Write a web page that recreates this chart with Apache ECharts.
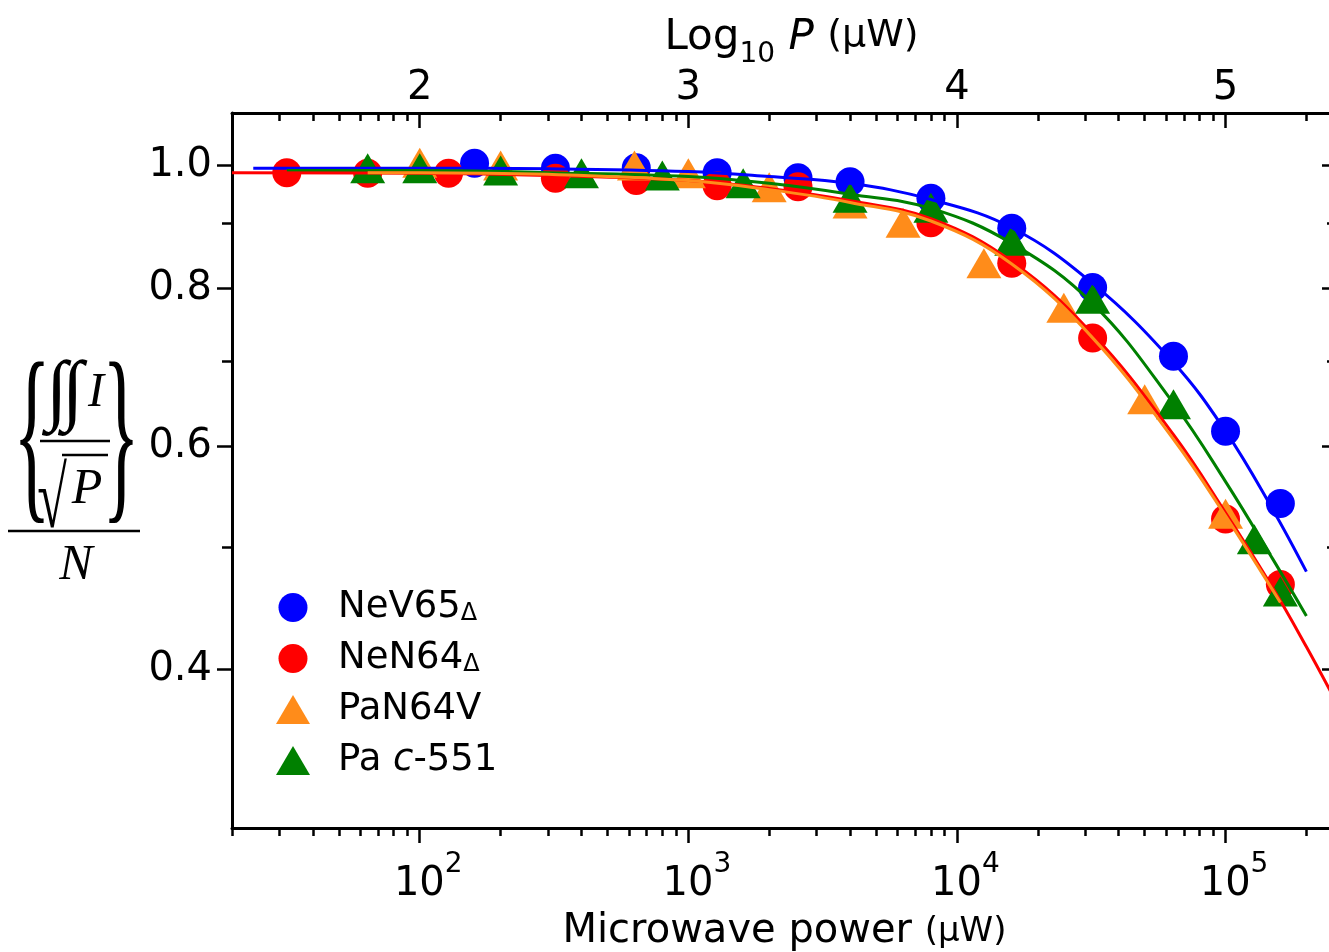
<!DOCTYPE html>
<html>
<head>
<meta charset="utf-8">
<script src="https://cdn.jsdelivr.net/npm/echarts@6/dist/echarts.min.js"></script>
<style>
html, body { margin: 0; padding: 0; background: #fff; overflow: hidden; }
#container { width: 1329px; height: 952px; }
</style>
</head>
<body>
<div id="container"></div>
<script>
// measured points (power in uW, normalised signal)
var bluePower = [160, 320, 640, 1280, 2560, 4000, 8000, 16000, 32000, 64000, 100000, 160000];
var blueSignal = [1.004, 0.995, 0.996, 0.987, 0.978, 0.971, 0.942, 0.892, 0.801, 0.707, 0.617, 0.541];
var redPower = [32, 64, 128, 320, 640, 1280, 2560, 8000, 16000, 32000, 100000, 160000];
var redSignal = [0.987, 0.986, 0.986, 0.977, 0.973, 0.964, 0.962, 0.901, 0.837, 0.731, 0.526, 0.467];
var orangePower = [100, 200, 630, 1000, 2000, 4000, 6300, 12600, 25000, 50000, 100000];
var orangeSignal = [1.005, 1.000, 1.000, 0.986, 0.961, 0.933, 0.901, 0.837, 0.772, 0.654, 0.531];
var greenPower = [64, 100, 200, 400, 800, 1600, 4000, 8000, 16000, 32000, 64000, 128000, 160000];
var greenSignal = [0.995, 0.995, 0.991, 0.986, 0.982, 0.968, 0.943, 0.926, 0.872, 0.785, 0.648, 0.507, 0.461];

// fitted curves
var blueFitPower = [24, 100, 300, 1000, 2000, 4000, 8000, 16000, 32000, 64000, 100000, 150000, 200000];
var blueFitSignal = [0.995, 0.995, 0.994, 0.989, 0.980, 0.968, 0.940, 0.893, 0.807, 0.699, 0.617, 0.535, 0.478];
var redFitPower = [20, 100, 300, 1000, 2000, 4000, 8000, 16000, 32000, 64000, 100000, 150000, 200000, 250000];
var redFitSignal = [0.987, 0.986, 0.982, 0.973, 0.959, 0.938, 0.908, 0.840, 0.736, 0.613, 0.532, 0.464, 0.417, 0.382];
var orangeFitPower = [64, 100, 300, 1000, 2000, 4000, 8000, 16000, 32000, 64000, 100000, 160000];
var orangeFitSignal = [0.987, 0.987, 0.984, 0.973, 0.957, 0.935, 0.904, 0.836, 0.731, 0.608, 0.529, 0.452];
var greenFitPower = [32, 100, 300, 1000, 2000, 4000, 8000, 16000, 32000, 64000, 100000, 150000, 200000];
var greenFitSignal = [0.991, 0.991, 0.987, 0.980, 0.968, 0.949, 0.925, 0.868, 0.778, 0.649, 0.563, 0.489, 0.441];

var seriesNames = ['NeV65Δ', 'NeN64Δ', 'PaN64V', 'Pa c-551'];
var seriesColors = ['#0000FF', '#FF0000', '#FF8C1A', '#008000'];

// ticks
var xMajorTicks = [100, 1000, 10000, 100000];
var xMinorSteps = [2, 3, 4, 5, 6, 7, 8, 9];
var xDecades = [10, 100, 1000, 10000, 100000];
var topTickLabels = [2, 3, 4, 5];
var yMajorTicks = [0.4, 0.6, 0.8, 1.0];
var yMinorTicks = [0.5, 0.7, 0.9];

var X_MIN = 20, X_MAX = 260000, Y_MIN = 0.3, Y_MAX = 1.1;

function lg(v) { return Math.log(v) / Math.LN10; }
function pairs(xs, ys) { return xs.map(function (x, i) { return [x, ys[i]]; }); }

var xMinorLog = [];
xDecades.forEach(function (d) {
    xMinorSteps.forEach(function (k) {
        var v = d * k;
        if (v >= X_MIN && v <= X_MAX) xMinorLog.push(lg(v));
    });
});

var font = 'DejaVu Sans';
var serif = 'Liberation Serif';

// value axis that only draws ticks (log10 space, lined up with the log axes)
function tickAxis(position, min, max, values, length, inside, label) {
    return {
        type: 'value', position: position, min: min, max: max,
        axisLine: {show: false, onZero: false},
        axisTick: {show: true, inside: inside, length: length, customValues: values,
            lineStyle: {color: '#000', width: 2.5}},
        axisLabel: label || {show: false},
        splitLine: {show: false}
    };
}

function mathText(x, y, text, size, opts) {
    opts = opts || {};
    return {
        type: 'text', x: x, y: y, scaleX: opts.sx || 1, scaleY: opts.sy || 1,
        style: {
            text: text, fontSize: size, fontFamily: opts.family || serif,
            fontStyle: opts.italic ? 'italic' : 'normal', fill: '#000',
            align: 'center', verticalAlign: 'middle', textAlign: 'center', textVerticalAlign: 'middle'
        }
    };
}

var myChart = echarts.init(document.getElementById('container'));

var option = {
    animation: false,
    backgroundColor: '#fff',
    grid: {left: 232, top: 113, right: -8, bottom: 124, containLabel: false, outerBoundsMode: 'none'},
    legend: {
        orient: 'vertical', left: 271, top: 584,
        itemWidth: 34, itemHeight: 29, itemGap: 14,
        data: [
            {name: seriesNames[0], icon: 'circle'},
            {name: seriesNames[1], icon: 'circle'},
            {name: seriesNames[2], icon: 'triangle'},
            {name: seriesNames[3], icon: 'triangle'}
        ],
        formatter: function (name) {
            if (name === 'Pa c-551') return '{sp|}{n|Pa }{i|c}{n|-551}';
            if (name.indexOf('Δ') > 0) return '{sp|}{n|' + name.replace('Δ', '') + '}{d|Δ}';
            return '{sp|}{n|' + name + '}';
        },
        textStyle: {
            color: '#000', fontFamily: font, fontSize: 37,
            rich: {
                sp: {width: 23},
                n: {fontSize: 37, lineHeight: 37, fontFamily: font, color: '#000'},
                i: {fontSize: 37, lineHeight: 37, fontFamily: font, fontStyle: 'italic', color: '#000'},
                d: {fontSize: 24, lineHeight: 30, verticalAlign: 'bottom', fontFamily: font, color: '#000'}
            }
        }
    },
    xAxis: [
        {
            type: 'log', logBase: 10, min: X_MIN, max: X_MAX, position: 'bottom',
            axisLine: {show: true, onZero: false, lineStyle: {color: '#000', width: 3}},
            axisTick: {show: false}, axisLabel: {show: false}, splitLine: {show: false},
            name: '{a|Microwave power }{u|(μW)}', nameLocation: 'middle', nameGap: 82, nameMoveOverlap: false,
            nameTextStyle: {
                rich: {
                    a: {fontSize: 40, lineHeight: 44, fontFamily: font, color: '#000'},
                    u: {fontSize: 34, lineHeight: 44, fontFamily: font, color: '#000'}
                }
            }
        },
        tickAxis('bottom', lg(X_MIN), lg(X_MAX), xMajorTicks.map(lg), 15, false, {
            show: true, customValues: xMajorTicks.map(lg), margin: 23,
            formatter: function (v) { return '{b|10}{s|' + Math.round(v) + '}'; },
            rich: {
                b: {fontSize: 40, lineHeight: 54, verticalAlign: 'bottom', padding: [0, 0, 0, 17], fontFamily: font, color: '#000'},
                s: {fontSize: 28, lineHeight: 28, verticalAlign: 'top', fontFamily: font, color: '#000'}
            }
        }),
        tickAxis('bottom', lg(X_MIN), lg(X_MAX), xMinorLog, 8, false),
        Object.assign(tickAxis('top', lg(X_MIN), lg(X_MAX), topTickLabels, 15, true, {
            show: true, customValues: topTickLabels, margin: 4,
            fontSize: 40, fontFamily: font, color: '#000'
        }), {
            axisLine: {show: true, onZero: false, lineStyle: {color: '#000', width: 3}},
            name: '{a|Log}{s|10}{a| }{i|P}{a| }{u|(μW)}', nameLocation: 'middle', nameGap: 44, nameMoveOverlap: false,
            nameTextStyle: {
                padding: [0, 0, 0, 14],
                rich: {
                    a: {fontSize: 42, lineHeight: 52, verticalAlign: 'top', fontFamily: font, color: '#000'},
                    i: {fontSize: 42, lineHeight: 52, verticalAlign: 'top', fontStyle: 'italic', fontFamily: font, color: '#000'},
                    u: {fontSize: 38, lineHeight: 52, verticalAlign: 'top', fontFamily: font, color: '#000'},
                    s: {fontSize: 28, lineHeight: 40, verticalAlign: 'bottom', fontFamily: font, color: '#000'}
                }
            }
        }),
        tickAxis('top', lg(X_MIN), lg(X_MAX), xMinorLog, 8, true)
    ],
    yAxis: [
        {
            type: 'log', logBase: 10, min: Y_MIN, max: Y_MAX, position: 'left',
            axisLine: {show: true, onZero: false, lineStyle: {color: '#000', width: 3}},
            axisTick: {show: false}, axisLabel: {show: false}, splitLine: {show: false}
        },
        tickAxis('left', lg(Y_MIN), lg(Y_MAX), yMajorTicks.map(lg), 15, false, {
            show: true, customValues: yMajorTicks.map(lg), margin: 20,
            fontSize: 40, fontFamily: font, color: '#000',
            formatter: function (v) { return Math.pow(10, v).toFixed(1); }
        }),
        tickAxis('left', lg(Y_MIN), lg(Y_MAX), yMinorTicks.map(lg), 10, false),
        Object.assign(tickAxis('right', lg(Y_MIN), lg(Y_MAX), yMajorTicks.map(lg), 15, true), {
            axisLine: {show: true, onZero: false, lineStyle: {color: '#000', width: 3}}
        }),
        tickAxis('right', lg(Y_MIN), lg(Y_MAX), yMinorTicks.map(lg), 10, true)
    ],
    // y axis title: {∬I / √P} / N
    graphic: [
        mathText(32, 446, '{', 78, {sy: 2.5}),
        mathText(121, 446, '}', 78, {sy: 2.5}),
        mathText(57, 395, '∫', 78),
        mathText(73, 395, '∫', 78),
        mathText(96, 393, 'I', 48, {italic: true}),
        {type: 'line', shape: {x1: 40, y1: 441, x2: 110, y2: 441}, style: {stroke: '#000', lineWidth: 2.5}},
        mathText(52, 504, '√', 54, {sy: 1.6}),
        {type: 'line', shape: {x1: 62, y1: 455, x2: 108, y2: 455}, style: {stroke: '#000', lineWidth: 2.5}},
        mathText(87, 490, 'P', 50, {italic: true}),
        {type: 'line', shape: {x1: 8, y1: 531, x2: 140, y2: 531}, style: {stroke: '#000', lineWidth: 2.5}},
        mathText(76, 566, 'N', 50, {italic: true})
    ],
    series: [
        {name: seriesNames[0], type: 'scatter', symbol: 'circle', symbolSize: 29, z: 2,
            itemStyle: {color: seriesColors[0], opacity: 1}, data: pairs(bluePower, blueSignal)},
        {name: seriesNames[1], type: 'scatter', symbol: 'circle', symbolSize: 29, z: 2,
            itemStyle: {color: seriesColors[1], opacity: 1}, data: pairs(redPower, redSignal)},
        {name: seriesNames[2], type: 'scatter', symbol: 'triangle', symbolSize: [35, 30], z: 2,
            itemStyle: {color: seriesColors[2], opacity: 1}, data: pairs(orangePower, orangeSignal)},
        {name: seriesNames[3], type: 'scatter', symbol: 'triangle', symbolSize: [35, 30], z: 2,
            itemStyle: {color: seriesColors[3], opacity: 1}, data: pairs(greenPower, greenSignal)},
        {name: 'NeV65Δ fit', type: 'line', showSymbol: false, symbol: 'none', smooth: 0.4, z: 3,
            lineStyle: {color: seriesColors[0], width: 3}, data: pairs(blueFitPower, blueFitSignal)},
        {name: 'Pa c-551 fit', type: 'line', showSymbol: false, symbol: 'none', smooth: 0.4, z: 3,
            lineStyle: {color: seriesColors[3], width: 3}, data: pairs(greenFitPower, greenFitSignal)},
        {name: 'NeN64Δ fit', type: 'line', showSymbol: false, symbol: 'none', smooth: 0.4, z: 3,
            lineStyle: {color: seriesColors[1], width: 3}, data: pairs(redFitPower, redFitSignal)},
        {name: 'PaN64V fit', type: 'line', showSymbol: false, symbol: 'none', smooth: 0.4, z: 3,
            lineStyle: {color: seriesColors[2], width: 3}, data: pairs(orangeFitPower, orangeFitSignal)}
    ]
};

myChart.setOption(option);
</script>
</body>
</html>
